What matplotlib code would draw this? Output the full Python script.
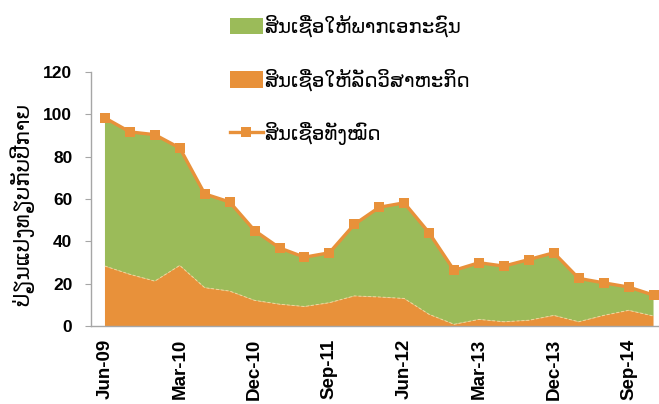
import matplotlib
matplotlib.use("Agg")
import matplotlib.pyplot as plt
from matplotlib.patches import Patch
from matplotlib.lines import Line2D

quarters = ["Jun-09", "Sep-09", "Dec-09", "Mar-10", "Jun-10", "Sep-10", "Dec-10",
            "Mar-11", "Jun-11", "Sep-11", "Dec-11", "Mar-12", "Jun-12", "Sep-12",
            "Dec-12", "Mar-13", "Jun-13", "Sep-13", "Dec-13", "Mar-14", "Jun-14",
            "Sep-14", "Dec-14"]
state_enterprise = [28.3, 24.4, 21.2, 28.6, 18.1, 16.5, 12.1, 10.3, 9.2, 11.0, 14.2, 13.7,
                    13.0, 5.5, 0.8, 3.1, 2.0, 2.7, 5.0, 2.0, 5.0, 7.4, 4.7]
private_sector = [70.0, 67.3, 69.2, 55.5, 44.3, 42.1, 33.0, 26.6, 23.3, 23.6, 33.8, 42.4,
                  45.2, 38.5, 25.5, 26.8, 26.3, 28.7, 29.6, 20.5, 15.4, 11.0, 9.9]
total_credit = [98.3, 91.7, 90.4, 84.1, 62.4, 58.6, 45.1, 36.9, 32.5, 34.6, 48.0, 56.1,
                58.2, 44.0, 26.3, 29.9, 28.3, 31.4, 34.6, 22.5, 20.4, 18.4, 14.6]
tick_labels = ["Jun-09", "Mar-10", "Dec-10", "Sep-11", "Jun-12", "Mar-13", "Dec-13", "Sep-14"]
y_ticks = [0, 20, 40, 60, 80, 100, 120]

LABEL_PRIVATE = "ສິນເຊື່ອໃຫ້ພາກເອກະຊົນ"
LABEL_STATE = "ສິນເຊື່ອໃຫ້ລັດວິສາຫະກິດ"
LABEL_TOTAL = "ສິນເຊື່ອທັງໝົດ"
YLABEL = "ປ່ຽນແປງທຽບກັບປີກາຍ"

GREEN = "#9BBB59"
ORANGE = "#E8913A"
AXIS = "#A6A6A6"
LAO_FONT = ["DejaVu Sans"]
NUM_FONT = ["Liberation Sans", "DejaVu Sans"]

W, H = 659, 404
fig = plt.figure(figsize=(W / 100, H / 100), dpi=100)
ax = fig.add_axes([91 / W, 1 - 326 / H, 575 / W, 254 / H])

x = list(range(len(quarters)))
ax.stackplot(x, state_enterprise, private_sector, colors=[ORANGE, GREEN], linewidth=0)
ax.plot(x, state_enterprise, color="#F4D59A", lw=0.7, ls=(0, (3, 2)))
ax.plot(x, total_credit, color=ORANGE, lw=2.4, marker="s", markersize=6.5,
        markeredgewidth=0)

ax.set_xlim(-0.56, 22.5)
ax.set_ylim(0, 120)
ax.set_yticks(y_ticks)
ax.set_yticklabels([str(v) for v in y_ticks], fontfamily=NUM_FONT,
                   fontweight="bold", fontsize=12.5)
ax.set_xticks([quarters.index(t) for t in tick_labels])
ax.set_xticklabels(tick_labels, rotation=90, fontfamily=NUM_FONT,
                   fontweight="bold", fontsize=13.5, va="top", ha="center")
ax.tick_params(axis="y", length=4.5, width=0.8, color=AXIS, pad=9)
ax.tick_params(axis="x", length=0, pad=9)

for side in ("top", "right"):
    ax.spines[side].set_visible(False)
for side in ("left", "bottom"):
    ax.spines[side].set_color(AXIS)
    ax.spines[side].set_linewidth(1.0)

fig.text(22 / W, 1 - 204 / H, YLABEL, rotation=90, ha="center", va="center",
         fontfamily=LAO_FONT, fontsize=15.5)

handles = [
    Patch(facecolor=GREEN, edgecolor="none"),
    Patch(facecolor=ORANGE, edgecolor="none"),
    Line2D([], [], color=ORANGE, lw=2.4, marker="s", markersize=6.5, markeredgewidth=0),
]
fig.legend(handles, [LABEL_PRIVATE, LABEL_STATE, LABEL_TOTAL],
           loc="upper left", bbox_to_anchor=(230 / W, 1 - 15 / H),
           frameon=False, borderpad=0, borderaxespad=0,
           handlelength=1.65, handleheight=0.9, handletextpad=0.1,
           labelspacing=1.57, prop={"family": LAO_FONT, "size": 14.2})

fig.savefig("out.png", dpi=100)
